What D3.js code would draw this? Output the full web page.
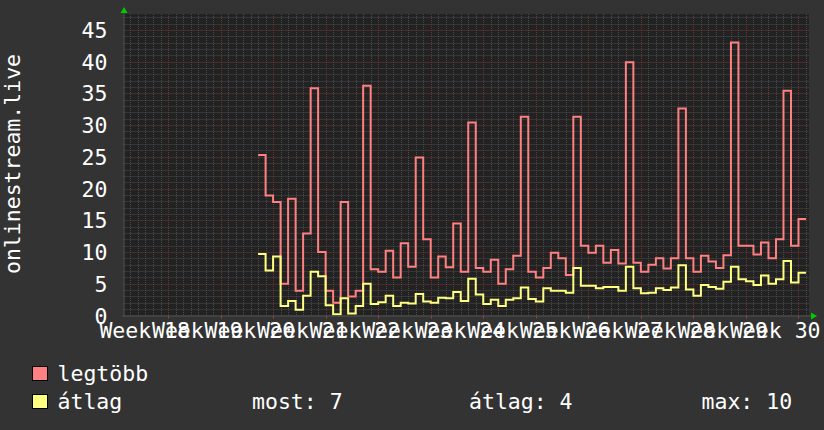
<!DOCTYPE html>
<html><head><meta charset="utf-8">
<script src="https://cdn.jsdelivr.net/npm/d3@7/dist/d3.min.js"></script>
<style>
body{margin:0;background:#333333;}
text{font-family:"DejaVu Sans Mono",monospace;fill:#ffffff;}
</style>
</head><body>
<svg id="chart" width="824" height="430"></svg>
<script>
// ---- data ----
const weekNumbers = [18,19,20,21,22,23,24,25,26,27,28,29,30];
const weekLabels = weekNumbers.map(w => "Week " + w);
const firstDay = 12; // day index (0 = start of week 18) of the first sample
const maxValues = [25.3,18.9,17.9,5.0,18.4,3.9,12.9,35.8,10.0,3.9,2.0,17.9,3.0,3.9,36.2,7.3,6.9,10.2,6.0,11.4,7.7,24.9,12.0,6.0,9.3,7.6,14.5,6.9,30.4,7.5,6.9,8.8,5.0,7.3,9.4,31.3,6.9,6.0,7.5,9.9,9.0,6.4,31.3,11.0,9.9,11.0,8.3,10.3,8.2,39.9,8.3,6.9,8.0,9.0,7.4,9.0,32.6,9.0,6.9,9.4,8.5,7.5,9.5,43.0,11.0,11.0,9.6,11.5,9.0,12.0,35.4,11.0,15.2];
const avgValues = [9.7,7.1,9.3,1.5,2.3,0.9,3.1,6.9,6.2,1.6,0.2,2.7,0.3,1.5,5.0,1.8,2.1,3.1,1.5,2.0,1.9,3.4,2.2,2.0,2.8,2.7,3.7,2.3,5.8,3.3,1.8,2.5,1.5,2.5,2.7,4.4,2.6,2.2,4.3,3.9,3.9,3.6,7.5,4.7,4.7,4.3,4.5,4.5,3.9,7.7,4.3,3.5,3.6,4.3,4.0,4.4,7.9,4.1,3.1,4.8,4.5,4.2,5.3,7.7,5.7,5.4,4.8,6.3,5.0,5.7,8.6,5.2,6.75];
const yTicks = [0,5,10,15,20,25,30,35,40,45];
const yTitle = "onlinestream.live";
const seriesNames = ["legtöbb","átlag"];
const seriesColors = ["#ff8080","#ffff80"];
const statLabels = ["most: 7","átlag: 4","max: 10"];

// ---- layout ----
const svg = d3.select("#chart");
const pL = 123.5, pR = 809, pT = 14, pB = 315.5;
const x = d3.scaleLinear().domain([-5.93, 85.4]).range([pL, pR]);
const y = d3.scaleLinear().domain([0, 47.5]).range([pB, pT]);
const FS = "21.5px";

svg.append("rect").attr("x", pL).attr("y", pT).attr("width", pR-pL).attr("height", pB-pT).attr("fill", "#222222");

const grid = svg.append("g");
d3.range(1, 48).filter(v => v % 5 !== 0).forEach(v => {
  grid.append("line").attr("x1", pL).attr("x2", pR).attr("y1", Math.round(y(v))+0.5).attr("y2", Math.round(y(v))+0.5)
    .attr("stroke", "#4a4a4a").attr("stroke-dasharray", "1,1");
});
d3.range(-5, 86).filter(d => d % 7 !== 0).forEach(d => {
  grid.append("line").attr("y1", pT).attr("y2", pB).attr("x1", Math.round(x(d))+0.5).attr("x2", Math.round(x(d))+0.5)
    .attr("stroke", "#4a4a4a").attr("stroke-dasharray", "1,1");
});
yTicks.filter(v => v > 0).forEach(v => {
  grid.append("line").attr("x1", pL).attr("x2", pR).attr("y1", Math.round(y(v))+0.5).attr("y2", Math.round(y(v))+0.5)
    .attr("stroke", "#6e3434").attr("stroke-dasharray", "1,1");
});
weekNumbers.forEach(w => {
  const xx = Math.round(x((w-18)*7))+0.5;
  grid.append("line").attr("y1", pT).attr("y2", pB).attr("x1", xx).attr("x2", xx)
    .attr("stroke", "#6e3434").attr("stroke-dasharray", "1,1");
  svg.append("line").attr("y1", pB).attr("y2", pB+3).attr("x1", xx).attr("x2", xx).attr("stroke", "#a04040");
});

svg.append("line").attr("x1", pL-1).attr("x2", pR+2).attr("y1", pB+0.5).attr("y2", pB+0.5).attr("stroke", "#555");
svg.append("line").attr("x1", pL+0.5).attr("x2", pL+0.5).attr("y1", pT-2).attr("y2", pB+1).attr("stroke", "#555");
svg.append("path").attr("d", `M${pL-3},${pT-1}L${pL+0.5},${pT-7}L${pL+4},${pT-1}Z`).attr("fill", "#00cc00");
svg.append("path").attr("d", `M${pR+2},${pB-3}L${pR+8},${pB+0.5}L${pR+2},${pB+4}Z`).attr("fill", "#00cc00");

svg.append("g").selectAll("text").data(yTicks).join("text")
  .attr("x", 107.5).attr("y", d => y(d) + 8).attr("text-anchor", "end")
  .style("font-size", FS).text(d => d);

svg.append("g").selectAll("text").data(weekNumbers).join("text")
  .attr("x", (d) => x((d-18)*7 - 3.1)).attr("y", 338).attr("text-anchor", "middle")
  .style("font-size", FS).text((d,i) => weekLabels[i]);

svg.append("text").attr("transform", "translate(20,164) rotate(-90)").attr("text-anchor", "middle")
  .style("font-size", FS).text(yTitle);

const clipId = "plotclip";
svg.append("clipPath").attr("id", clipId).append("rect").attr("x", pL).attr("y", pT-2).attr("width", pR-pL).attr("height", pB-pT+2);
const line = d3.line().x(d => x(d[0])).y(d => y(d[1])).curve(d3.curveStepAfter);
[maxValues, avgValues].forEach((vals, si) => {
  const pts = vals.map((v, i) => [firstDay + i, v]);
  pts.push([firstDay + vals.length, vals[vals.length-1]]);
  svg.append("path").datum(pts).attr("d", line).attr("fill", "none")
    .attr("stroke", seriesColors[si]).attr("stroke-width", 2).attr("clip-path", `url(#${clipId})`);
});

const legRows = [381, 409];
seriesNames.forEach((name, i) => {
  svg.append("rect").attr("x", 32.5).attr("y", legRows[i]-14.5).attr("width", 15).attr("height", 14)
    .attr("fill", seriesColors[i]).attr("stroke", "#000").attr("stroke-width", 1);
  svg.append("text").attr("x", 57.5).attr("y", legRows[i]).style("font-size", FS).text(name);
});
const statX = [252, 469, 701.5];
statLabels.forEach((s, i) => {
  svg.append("text").attr("x", statX[i]).attr("y", legRows[1]).style("font-size", FS).text(s);
});
</script>
</body></html>
